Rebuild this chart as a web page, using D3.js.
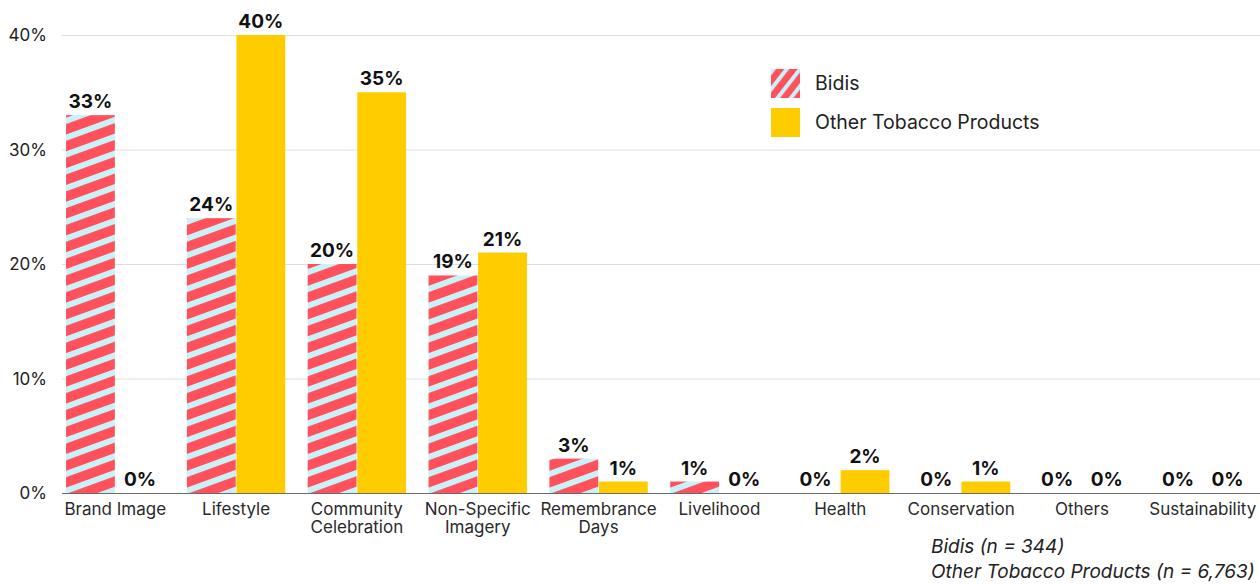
<!DOCTYPE html>
<html>
<head>
<meta charset="utf-8">
<script src="https://cdn.jsdelivr.net/npm/d3@7"></script>
<style>
  html, body { margin: 0; padding: 0; background: #fff; }
  svg { display: block; font-family: Inter, "Noto Sans", sans-serif; }
</style>
</head>
<body>
<svg id="chart" width="1260" height="584"></svg>
<script>
// Share of ads by theme, Bidis vs other tobacco products (percent)
const categories = ["Brand Image", "Lifestyle", "Community Celebration", "Non-Specific Imagery",
  "Remembrance Days", "Livelihood", "Health", "Conservation", "Others", "Sustainability"];
const seriesNames = ["Bidis", "Other Tobacco Products"];
const bidisValues = [33, 24, 20, 19, 3, 1, 0, 0, 0, 0];
const otherValues = [0, 40, 35, 21, 1, 0, 2, 1, 0, 0];
const yTickValues = [0, 10, 20, 30, 40];
const footnotes = ["Bidis (n = 344)", "Other Tobacco Products (n = 6,763)"];

const RED = "#ff505b", STRIPE = "#c8f1f8", YELLOW = "#ffcc00";

const svg = d3.select("#chart");
const defs = svg.append("defs");

function stripePattern(id, angle, period, stripe) {
  const p = defs.append("pattern")
    .attr("id", id)
    .attr("patternUnits", "userSpaceOnUse")
    .attr("width", 20).attr("height", period)
    .attr("patternTransform", `rotate(${angle})`);
  p.append("rect").attr("width", 20).attr("height", period).attr("fill", RED);
  p.append("rect").attr("width", 20).attr("height", stripe).attr("fill", STRIPE);
}
stripePattern("bidisFill", -20, 15.8, 6);
stripePattern("bidisLegend", -52, 10.5, 4);

const rows = categories.map((c, i) => ({ category: c, values: [bidisValues[i], otherValues[i]] }));

const x0 = d3.scaleBand().domain(categories).range([60, 1258]).paddingInner(0.186).paddingOuter(0.05);
const x1 = d3.scaleBand().domain(seriesNames).range([0, x0.bandwidth()]).paddingInner(0.015);
const y = d3.scaleLinear().domain([0, 40]).range([493, 35]);
const fills = ["url(#bidisFill)", YELLOW];

// gridlines
svg.append("g")
  .selectAll("line")
  .data(yTickValues.filter(d => d > 0))
  .join("line")
  .attr("x1", 62).attr("x2", 1260)
  .attr("y1", d => y(d) + 0.5).attr("y2", d => y(d) + 0.5)
  .attr("stroke", "#dedede").attr("stroke-width", 1);

// y axis labels
const yAxis = svg.append("g")
  .attr("transform", "translate(62,0)")
  .call(d3.axisLeft(y).tickValues(yTickValues).tickFormat(d => d + "%").tickSize(0).tickPadding(15));
yAxis.select(".domain").remove();
yAxis.selectAll("text")
  .attr("font-size", 17).attr("fill", "#222").attr("font-family", "Inter, sans-serif")
  .attr("dy", "0.35em");

// bars
const groups = svg.append("g")
  .selectAll("g")
  .data(rows)
  .join("g")
  .attr("transform", d => `translate(${x0(d.category)},0)`);

groups.selectAll("rect")
  .data(d => d.values.map((v, k) => ({ key: seriesNames[k], value: v, k })))
  .join("rect")
  .attr("x", d => x1(d.key))
  .attr("width", x1.bandwidth())
  .attr("y", d => y(d.value))
  .attr("height", d => y(0) - y(d.value))
  .attr("fill", d => fills[d.k]);

// value labels
groups.selectAll("text.val")
  .data(d => d.values.map((v, k) => ({ key: seriesNames[k], value: v })))
  .join("text")
  .attr("class", "val")
  .attr("x", d => x1(d.key) + x1.bandwidth() / 2)
  .attr("y", d => y(d.value) - 7)
  .attr("text-anchor", "middle")
  .attr("font-size", 19).attr("font-weight", 700).attr("fill", "#111")
  .text(d => d.value + "%");

// baseline
svg.append("line")
  .attr("x1", 62).attr("x2", 1260)
  .attr("y1", y(0) + 0.5).attr("y2", y(0) + 0.5)
  .attr("stroke", "#6b6b6b").attr("stroke-width", 1);

// category labels, wrapped onto two lines when wider than the group
const xAxis = svg.append("g")
  .attr("transform", `translate(0,${y(0)})`)
  .call(d3.axisBottom(x0).tickSize(0).tickPadding(0));
xAxis.select(".domain").remove();
xAxis.selectAll("text").each(function(d) {
  const t = d3.select(this);
  t.text(null).attr("font-size", 17).attr("fill", "#2a2a2a").attr("y", 22).attr("dy", 0)
    .attr("font-family", "Inter, sans-serif");
  const words = d.split(" ");
  const probe = t.append("tspan").text(d);
  const wide = probe.node().getComputedTextLength() > 110 && words.length > 1;
  probe.remove();
  const lines = wide ? [words.slice(0, -1).join(" "), words[words.length - 1]] : [d];
  lines.forEach((ln, i) => {
    t.append("tspan").attr("x", 0).attr("dy", i === 0 ? 0 : 18).text(ln);
  });
});

// legend
const legend = svg.append("g").attr("transform", "translate(771,69)");
const legendFills = ["url(#bidisLegend)", YELLOW];
seriesNames.forEach((name, i) => {
  const row = legend.append("g").attr("transform", `translate(0,${i * 39})`);
  row.append("rect").attr("width", 29).attr("height", 29).attr("fill", legendFills[i]);
  row.append("text").attr("x", 44).attr("y", 21)
    .attr("font-size", 19.5).attr("fill", "#222").text(name);
});

// sample sizes
svg.append("g")
  .selectAll("text")
  .data(footnotes)
  .join("text")
  .attr("x", 931)
  .attr("y", (d, i) => 553 + i * 24.5)
  .attr("font-size", 19).attr("font-style", "italic").attr("fill", "#222")
  .text(d => d);
</script>
</body>
</html>
